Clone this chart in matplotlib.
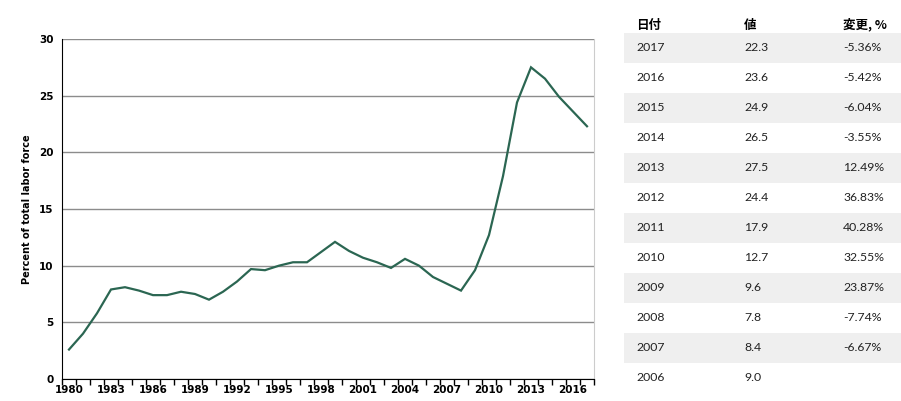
import matplotlib.pyplot as plt
from matplotlib.patches import Rectangle
from matplotlib.ticker import MultipleLocator, FixedLocator

# データ
years = list(range(1980, 2018))
values = [2.6, 4.0, 5.8, 7.9, 8.1, 7.8, 7.4, 7.4, 7.7, 7.5,
          7.0, 7.7, 8.6, 9.7, 9.6, 10.0, 10.3, 10.3, 11.2, 12.1,
          11.3, 10.7, 10.3, 9.8, 10.6, 10.0, 9.0, 8.4, 7.8, 9.6,
          12.7, 17.9, 24.4, 27.5, 26.5, 24.9, 23.6, 22.3]

table_years = [2017, 2016, 2015, 2014, 2013, 2012, 2011, 2010, 2009, 2008, 2007, 2006]
table_values = ["22.3", "23.6", "24.9", "26.5", "27.5", "24.4", "17.9", "12.7", "9.6", "7.8", "8.4", "9.0"]
table_changes = ["-5.36%", "-5.42%", "-6.04%", "-3.55%", "12.49%", "36.83%", "40.28%",
                 "32.55%", "23.87%", "-7.74%", "-6.67%", ""]
headers = ["日付", "値", "変更, %"]

W, H = 901, 401
fig = plt.figure(figsize=(W / 100, H / 100), dpi=100)

# 折れ線グラフ
ax = fig.add_axes([62 / W, (H - 379) / H, (594 - 62) / W, (379 - 39) / H])
ax.plot(years, values, color="#2b6652", linewidth=1.6, solid_joinstyle="miter", zorder=3)
ax.set_xlim(1979.5, 2017.5)
ax.set_ylim(0, 30)
ax.set_yticks(range(0, 31, 5))
ax.yaxis.grid(True, color="#8c8c8c", linewidth=1)
ax.set_axisbelow(True)
ax.xaxis.set_major_locator(FixedLocator(years[::3]))
ax.xaxis.set_minor_locator(MultipleLocator(1, offset=0.5))
ax.tick_params(axis="x", which="major", length=0, pad=4, labelsize=7.5)
ax.tick_params(axis="x", which="minor", length=4, width=1, color="black")
ax.tick_params(axis="y", length=0, pad=6, labelsize=7.5)
for lab in ax.get_xticklabels() + ax.get_yticklabels():
    lab.set_fontweight("bold")
ax.spines["top"].set_visible(False)
ax.spines["right"].set_color("#cccccc")
ax.spines["left"].set_color("black")
ax.spines["bottom"].set_color("black")
ax.set_ylabel("Percent of total labor force", fontsize=7, fontweight="bold", labelpad=5)

# 表
tx = fig.add_axes([0, 0, 1, 1])
tx.set_xlim(0, W)
tx.set_ylim(H, 0)
tx.axis("off")
col_x = [636, 744, 843]
jp = ["Noto Sans CJK JP", "DejaVu Sans"]
for x, h in zip(col_x, headers):
    tx.text(x, 25, h, family=jp, fontsize=9, fontweight="bold", va="center", ha="left")
for i, (yr, v, c) in enumerate(zip(table_years, table_values, table_changes)):
    yc = 47.7 + 30 * i
    if i % 2 == 0:
        tx.add_patch(Rectangle((624, yc - 15), W - 624, 30, color="#efefef", lw=0, zorder=0))
    for x, s in zip(col_x, [str(yr), v, c]):
        tx.text(x, yc, s, family="Lato", fontsize=8.8, color="#222222", va="center", ha="left")

fig.savefig("out.png", dpi=100)
